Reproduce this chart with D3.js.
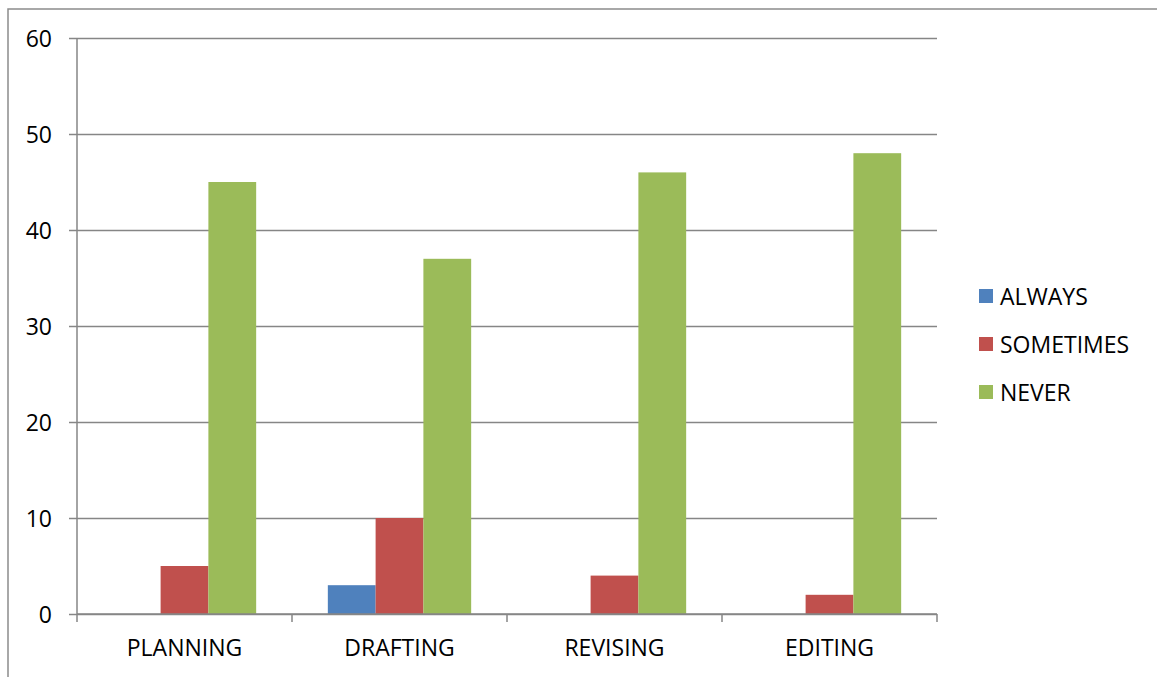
<!DOCTYPE html>
<html>
<head>
<meta charset="utf-8">
<script src="https://cdn.jsdelivr.net/npm/d3@7"></script>
<style>
  html, body { margin: 0; padding: 0; background: #fff; }
  svg { display: block; }
  text { font-family: "Open Sans", Lato, "Liberation Sans", sans-serif; fill: #000; }
</style>
</head>
<body>
<svg id="chart" width="1157" height="677"></svg>
<script>
// Writing-process stages and how often each was reported
const categories = ["PLANNING", "DRAFTING", "REVISING", "EDITING"];
const seriesNames = ["ALWAYS", "SOMETIMES", "NEVER"];
const always    = [0, 3, 0, 0];
const sometimes = [5, 10, 4, 2];
const never     = [45, 37, 46, 48];
const yTicks = [0, 10, 20, 30, 40, 50, 60];
const colors = ["#4F81BD", "#C0504D", "#9BBB59"];

const seriesValues = [always, sometimes, never];
const svg = d3.select("#chart");
const fontSize = "23px";

// Outer frame (only top and left edges fall inside the view)
svg.append("path")
  .attr("d", "M8,677 L8,9 L1157,9")
  .attr("fill", "none")
  .attr("stroke", "#8c8c8c")
  .attr("stroke-width", 1.5);

const plot = { left: 77, right: 937, top: 38, bottom: 614 };

const x = d3.scaleBand().domain(categories).range([plot.left, plot.right]);
const xInner = d3.scaleBand().domain(seriesNames)
  .range([0, x.bandwidth()]).paddingInner(0).paddingOuter(0.75);
const y = d3.scaleLinear().domain([0, 60]).range([plot.bottom, plot.top]);

const gridColor = "#868686";

// Horizontal gridlines with short outside ticks
const yAxis = d3.axisLeft(y).tickValues(yTicks)
  .tickSize(-(plot.right - plot.left)).tickSizeOuter(0).tickPadding(0).tickFormat("");
const gy = svg.append("g").attr("transform", `translate(${plot.left},0)`).call(yAxis);
gy.select(".domain").remove();
gy.selectAll(".tick line").attr("stroke", gridColor).attr("stroke-width", 1.3)
  .attr("x1", -8);

// Y tick labels
svg.append("g").selectAll("text").data(yTicks).join("text")
  .attr("x", 52).attr("y", d => y(d))
  .attr("text-anchor", "end").attr("dominant-baseline", "central")
  .style("font-size", fontSize)
  .text(d => d);

// Bars
const groups = svg.append("g").selectAll("g").data(categories).join("g")
  .attr("transform", c => `translate(${x(c)},0)`);
groups.selectAll("rect")
  .data((c, ci) => seriesNames.map((s, si) => ({ s, si, v: seriesValues[si][ci] })))
  .join("rect")
  .attr("x", d => xInner(d.s))
  .attr("width", xInner.bandwidth())
  .attr("y", d => y(d.v))
  .attr("height", d => y(0) - y(d.v))
  .attr("fill", d => colors[d.si]);

// Y axis line
svg.append("line")
  .attr("x1", plot.left).attr("x2", plot.left)
  .attr("y1", plot.top).attr("y2", plot.bottom)
  .attr("stroke", gridColor).attr("stroke-width", 1.5);

// X axis with category boundary ticks
const xAxisG = svg.append("g");
xAxisG.append("line")
  .attr("x1", plot.left).attr("x2", plot.right)
  .attr("y1", plot.bottom).attr("y2", plot.bottom)
  .attr("stroke", gridColor).attr("stroke-width", 1.5);
const boundaries = categories.map(c => x(c)).concat([x(categories[categories.length - 1]) + x.bandwidth()]);
xAxisG.selectAll("line.tk").data(boundaries).join("line").attr("class", "tk")
  .attr("x1", d => d).attr("x2", d => d)
  .attr("y1", plot.bottom).attr("y2", plot.bottom + 8)
  .attr("stroke", gridColor).attr("stroke-width", 1.5);
xAxisG.selectAll("text").data(categories).join("text")
  .attr("x", c => x(c) + x.bandwidth() / 2)
  .attr("y", 647)
  .attr("text-anchor", "middle").attr("dominant-baseline", "central")
  .style("font-size", fontSize)
  .text(c => c);

// Legend
const legend = svg.append("g").selectAll("g").data(seriesNames).join("g")
  .attr("transform", (d, i) => `translate(979,${296 + i * 48})`);
legend.append("rect").attr("x", 0).attr("y", -7).attr("width", 14).attr("height", 14)
  .attr("fill", (d, i) => colors[i]);
legend.append("text").attr("x", 21).attr("y", 0)
  .attr("dominant-baseline", "central")
  .style("font-size", fontSize)
  .text(d => d);
</script>
</body>
</html>
